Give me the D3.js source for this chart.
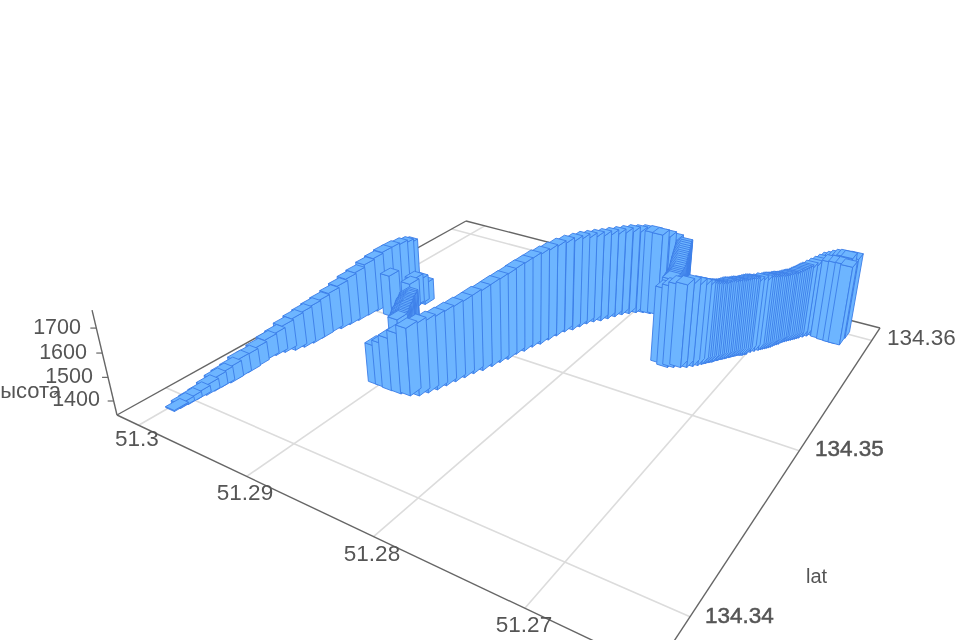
<!DOCTYPE html>
<html><head><meta charset="utf-8"><style>html,body{margin:0;background:#fff;overflow:hidden}svg{display:block;filter:blur(0.5px)}text{font-family:"Liberation Sans",Arial,sans-serif;fill:#555}</style></head>
<body><svg id="c" width="960" height="640"></svg>
<script src="https://cdn.jsdelivr.net/npm/d3@7"></script>
<script>
// longitude = 51 + value/1e5
const lonCodes=[29976,29971,29965,29963,29951,29945,29944,29932,29936,29933,29942,29955,29942,29918,29876,29852,
29838,29835,29839,29816,29804,29792,29785,29772,29759,29753,29747,29778,29800,29613,29520,29554,
29566,29550,29387,29374,29356,29333,29309,29293,29270,29247,29231,29050,28985,28917,28839,28770,
28718,28689,28660,28639,28617,28595,28573,28542,28519,28502,28477,28467,28441,28423,28396,28378,
28359,28339,28303,28282,28260,28230,28191,28161,28130,28099,28060,28020,27973,27918,27863,27816,
27776,27629,27608,27588,27568,27548,27528,27508,27495,27489,27483,27507,27446,27409,27366,27329,
27298,27273,27255,27236,27217,27198,27179,27159,27140,27121,27102,27082,27057,27038,27023,27004,
26984,26964,26944,26924,26909,26889,26874,26854,26833,26813,26792,26772,26751,26730,26704,26683,
26652,26621,26590,26559,26529,26495,
27246,27226,27205,27188,27170,27148,27130,27112,27092,27070,27047,
26974,26953,26934,26916,26899,26881,26865,26844,26823,26803,
29380,29365,29344,29321,29301,29281,29258,29239,
27618,27598,27578,27558,27538,27518,27501,27492,27486,
26640,26590,26540,26500];
// latitude = 134 + value/1e5
const latCodes=[33936,33964,34001,34047,34088,34128,34165,34208,34255,34305,34362,34429,34475,34516,34554,34596,
34645,34701,34769,34814,34866,34919,34984,35039,35095,35149,35204,35272,35319,35033,35217,35204,
35174,35131,35001,34983,34955,34930,34906,34879,34855,34831,34805,34531,34531,34527,34529,34538,
34558,34596,34635,34681,34728,34775,34822,34864,34913,34960,35001,35057,35099,35149,35191,35243,
35295,35348,35385,35428,35471,35506,35533,35569,35605,35641,35669,35696,35715,35723,35732,35751,
35778,35679,35641,35603,35566,35530,35494,35458,35421,35392,35363,35333,35317,35331,35347,35362,
35384,35403,35421,35438,35456,35473,35491,35509,35527,35544,35562,35580,35590,35608,35635,35653,
35671,35690,35708,35727,35754,35773,35801,35819,35838,35857,35877,35896,35915,35934,35944,35964,
35964,35965,35966,35966,35967,35990,
35431,35449,35463,35484,35502,35518,35537,35553,35570,35585,35601,
35682,35699,35716,35741,35762,35789,35808,35829,35848,35867,
34992,34968,34942,34918,34892,34867,34843,34818,
35660,35622,35585,35548,35512,35476,35440,35406,35378,
35925,35918,35915,35915];
const elevation=[1344,1357,1362,1366,1380,1393,1398,1407,1417,1417,1422,1427,1437,1460,1484,1498,
1508,1514,1520,1539,1554,1565,1580,1591,1602,1604,1600,1579,1560,1533,1439,1458,
1473,1467,1488,1483,1482,1482,1481,1481,1480,1479,1479,1510,1532,1567,1600,1629,
1645,1646,1651,1657,1663,1669,1679,1688,1699,1705,1715,1721,1731,1738,1744,1746,
1748,1746,1747,1744,1737,1734,1734,1731,1727,1724,1724,1720,1720,1720,1715,1706,
1688,1718,1716,1713,1711,1710,1708,1706,1704,1702,1701,1670,1694,1703,1703,1707,
1699,1691,1683,1675,1671,1667,1667,1668,1664,1664,1660,1661,1665,1661,1653,1654,
1650,1650,1646,1646,1638,1639,1635,1635,1640,1645,1650,1655,1660,1665,1674,1679,
1687,1696,1704,1708,1707,1700,
1678,1672,1669,1666,1668,1665,1664,1661,1661,1663,1662,
1651,1648,1647,1641,1638,1636,1634,1638,1642,1648,
1485,1482,1482,1481,1481,1480,1479,1479,
1717,1714,1712,1711,1709,1707,1705,1703,1701,
1688,1694,1696,1692];
const lonTicks=[51.3,51.29,51.28,51.27];
const latTicks=[134.36,134.35,134.34];
const elevTicks=[1400,1500,1600,1700];
const barHalfU=0.011, barHalfV=0.015;

const svg=d3.select("#c");
const uScale=d3.scaleLinear().domain([51.3022,51.2627]).range([0,1]);
const vScale=d3.scaleLinear().domain([134.3376,134.3614]).range([0,1]);
const zScale=d3.scaleLinear().domain([1339.5,1770.5]).range([0,1]);
function proj(u,v,z){
  const r=-0.0571, w=-0.2898*u+0.457*v+1+r*z;
  return [(348.2*u+562*v+117+529*r*z)/w,(60.8*u-93*v+415+2148*r*z)/w];
}
const depth=d=>-0.2898*d.u+0.457*d.v;
const pt=p=>p.map(n=>n.toFixed(2)).join(",");

// grid
const gridData=[
 ...lonTicks.map(t=>({a:[uScale(t),0,0],b:[uScale(t),1,0]})),
 ...latTicks.map(t=>({a:[0,vScale(t),0],b:[1,vScale(t),0]}))];
const line=(a,b)=>{const p=proj(...a),q=proj(...b);return {x1:p[0],y1:p[1],x2:q[0],y2:q[1]};};
svg.append("g").selectAll("line").data(gridData).join("line").each(function(d){
  const l=line(d.a,d.b);d3.select(this).attr("x1",l.x1).attr("y1",l.y1).attr("x2",l.x2).attr("y2",l.y2);
}).attr("stroke","#dcdcdc").attr("stroke-width",1.6);

// box axes
const edges=[[[0,0,0],[1,0,0]],[[1,0,0],[1,1,0]],[[1,1,0],[0,1,0]],[[0,1,0],[0,0,0]],[[0,0,0],[0,0,1]]];
svg.append("g").selectAll("line").data(edges).join("line").each(function(d){
  const l=line(d[0],d[1]);d3.select(this).attr("x1",l.x1).attr("y1",l.y1).attr("x2",l.x2).attr("y2",l.y2);
}).attr("stroke","#666").attr("stroke-width",1.4);

// elevation ticks
svg.append("g").selectAll("line").data(elevTicks).join("line").each(function(d){
  const p=proj(0,0,zScale(d));d3.select(this).attr("x1",p[0]).attr("y1",p[1]).attr("x2",p[0]-6).attr("y2",p[1]);
}).attr("stroke","#666").attr("stroke-width",1.2);

// bars
const bars=lonCodes.map((c,i)=>({u:uScale(51+c/1e5),v:vScale(134+latCodes[i]/1e5),z:zScale(elevation[i])}))
  .sort((p,q)=>depth(q)-depth(p));
const barG=svg.append("g").selectAll("g").data(bars).join("g");
const faces=d=>{
  const u0=d.u-barHalfU,u1=d.u+barHalfU,v0=d.v-barHalfV,v1=d.v+barHalfV;
  return [
    [[u0,v0,0],[u1,v0,0],[u1,v0,d.z],[u0,v0,d.z]],
    [[u1,v0,0],[u1,v1,0],[u1,v1,d.z],[u1,v0,d.z]],
    [[u0,v0,d.z],[u1,v0,d.z],[u1,v1,d.z],[u0,v1,d.z]]];
};
barG.selectAll("polygon").data(faces).join("polygon")
  .attr("points",f=>f.map(c=>pt(proj(...c))).join(" "))
  .attr("fill","#6db5ff").attr("stroke","#3b7de8").attr("stroke-width",0.9).attr("stroke-linejoin","round");

// labels
const txt=(g,data,fn,anchor,size)=>g.selectAll("text").data(data).join("text")
  .attr("x",d=>fn(d)[0]).attr("y",d=>fn(d)[1]).attr("text-anchor",anchor).attr("dominant-baseline","central")
  .attr("font-size",size).text(d=>d);
const lonPos={51.3:[137,438],51.29:[245,492],51.28:[372,553],51.27:[524,624]};
const latPos={134.36:[887,337],134.35:[815,448],134.34:[705,615]};
const elevPos={1700:[81,327],1600:[87,352],1500:[93,376],1400:[100,399]};
txt(svg.append("g"),lonTicks,d=>lonPos[d],"middle",22.5);
txt(svg.append("g"),latTicks,d=>latPos[d],"start",22.5).attr("stroke",d=>d===134.36?"none":"#555").attr("stroke-width",0.5);
txt(svg.append("g"),elevTicks,d=>elevPos[d],"end",21.5);
svg.append("text").attr("x",806).attr("y",576).attr("dominant-baseline","central").attr("font-size",20).text("lat");
svg.append("text").attr("x",-11.5).attr("y",390).attr("dominant-baseline","central").attr("font-size",22).text("высота");
</script></body></html>
